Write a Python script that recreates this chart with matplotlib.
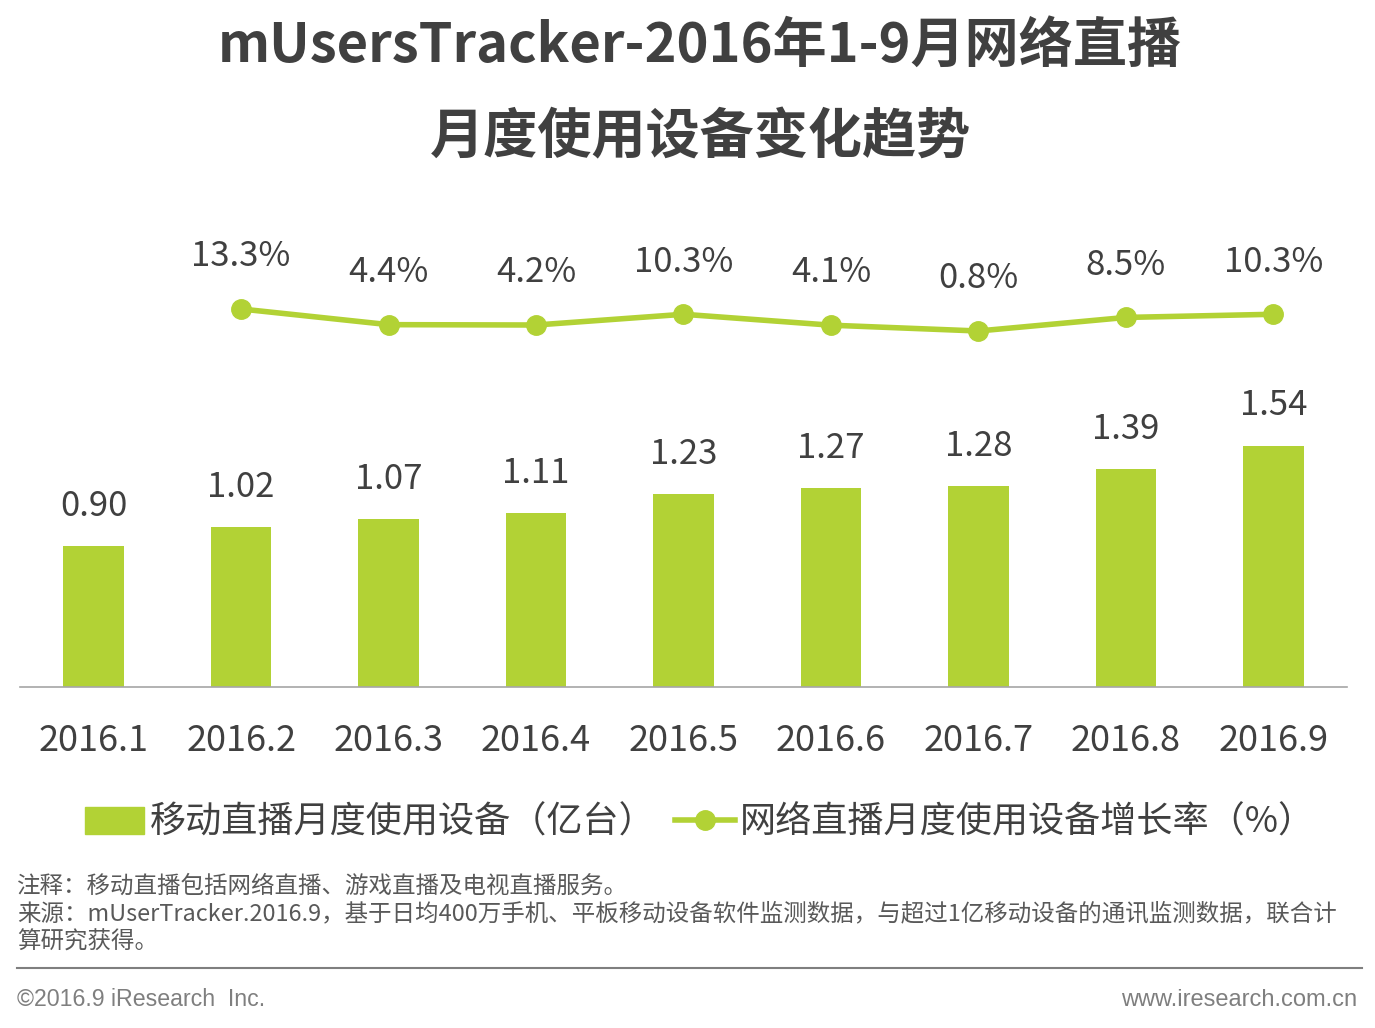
import matplotlib
matplotlib.use("Agg")
import matplotlib.pyplot as plt
from matplotlib.patches import Patch
from matplotlib.lines import Line2D
import numpy as np

plt.rcParams['font.family'] = ['Noto Sans CJK SC', 'DejaVu Sans']

categories = ["2016.1", "2016.2", "2016.3", "2016.4", "2016.5", "2016.6", "2016.7", "2016.8", "2016.9"]
devices = [0.90, 1.02, 1.07, 1.11, 1.23, 1.27, 1.28, 1.39, 1.54]
growth = [None, 13.3, 4.4, 4.2, 10.3, 4.1, 0.8, 8.5, 10.3]
bar_label = "移动直播月度使用设备（亿台）"
line_label = "网络直播月度使用设备增长率（%）"
title_lines = ["mUsersTracker-2016年1-9月网络直播", "月度使用设备变化趋势"]
note_lines = ["注释：移动直播包括网络直播、游戏直播及电视直播服务。",
              "来源：mUserTracker.2016.9，基于日均400万手机、平板移动设备软件监测数据，与超过1亿移动设备的通讯监测数据，联合计",
              "算研究获得。"]
copyright_text = "©2016.9 iResearch  Inc."
site_text = "www.iresearch.com.cn"

GREEN = "#B2D235"
TEXT = "#404040"

W, H = 1375, 1028
fig = plt.figure(figsize=(W / 100, H / 100), dpi=100)

ax_left, ax_right = 20, 1347
ax_bottom, ax_top = 687, 200
ax = fig.add_axes([ax_left / W, (H - ax_bottom) / H, (ax_right - ax_left) / W, (ax_bottom - ax_top) / H])
x = np.arange(len(categories))
px_per_unit = 156.7
ax.set_ylim(0, (ax_bottom - ax_top) / px_per_unit)
ax.set_xlim(-0.5, len(categories) - 0.5)
bars = ax.bar(x, devices, width=0.41, color=GREEN, zorder=2)
for xi, v in zip(x, devices):
    ax.annotate(f"{v:.2f}", (xi, v), xytext=(0, 16), textcoords="offset points",
                ha="center", va="bottom", fontsize=25, color=TEXT)

for s in ["top", "right", "left"]:
    ax.spines[s].set_visible(False)
ax.spines["bottom"].set_color("#A6A6A6")
ax.spines["bottom"].set_linewidth(1.2)
ax.set_yticks([])
ax.set_xticks(x)
ax.set_xticklabels(categories, fontsize=26, color=TEXT)
ax.tick_params(axis="x", length=0, pad=26)

ax2 = ax.twinx()
zero_px_above = ax_bottom - 332.4
g_px = 1.76
total = ax_bottom - ax_top
ax2.set_ylim(-zero_px_above / g_px, (total - zero_px_above) / g_px)
ax2.axis("off")
gx = [xi for xi, g in zip(x, growth) if g is not None]
gy = [g for g in growth if g is not None]
ax2.plot(gx, gy, color=GREEN, lw=4, marker="o", ms=14, zorder=3)
for xi, g in zip(gx, gy):
    ax2.annotate(f"{g:.1f}%", (xi, g), xytext=(0, 25), textcoords="offset points",
                 ha="center", va="bottom", fontsize=25, color=TEXT)

# Title
fig.text(700 / W, 1 - 46 / H, title_lines[0], ha="center", va="center", fontsize=39,
         fontweight="bold", color=TEXT)
fig.text(700 / W, 1 - 138 / H, title_lines[1], ha="center", va="center", fontsize=39,
         fontweight="bold", color=TEXT)

# Legend
handles = [Patch(facecolor=GREEN, edgecolor=GREEN),
           Line2D([0], [0], color=GREEN, lw=4, marker="o", ms=14)]
leg = fig.legend(handles, [bar_label, line_label], loc="center", ncol=2,
                 bbox_to_anchor=(700 / W, 1 - 823 / H), frameon=False,
                 fontsize=26, handlelength=1.65, handletextpad=0.15, columnspacing=0.55,
                 handleheight=0.8)
for t in leg.get_texts():
    t.set_color(TEXT)

# Notes
for i, line in enumerate(note_lines):
    fig.text(17 / W, 1 - (886 + 28 * i) / H, line, ha="left", va="center",
             fontsize=16.9, color="#595959")
fig.add_artist(Line2D([17 / W, 1362 / W], [1 - 968 / H, 1 - 968 / H],
                      color="#7F7F7F", lw=1.5))
fig.text(17 / W, 1 - 1000 / H, copyright_text, ha="left", va="center", fontsize=16.7,
         color="#7F7F7F", family=["Liberation Sans", "DejaVu Sans"])
fig.text(1357 / W, 1 - 1000 / H, site_text, ha="right", va="center", fontsize=17,
         color="#7F7F7F", family=["Liberation Sans", "DejaVu Sans"])

fig.savefig("out.png", dpi=100, facecolor="white")
